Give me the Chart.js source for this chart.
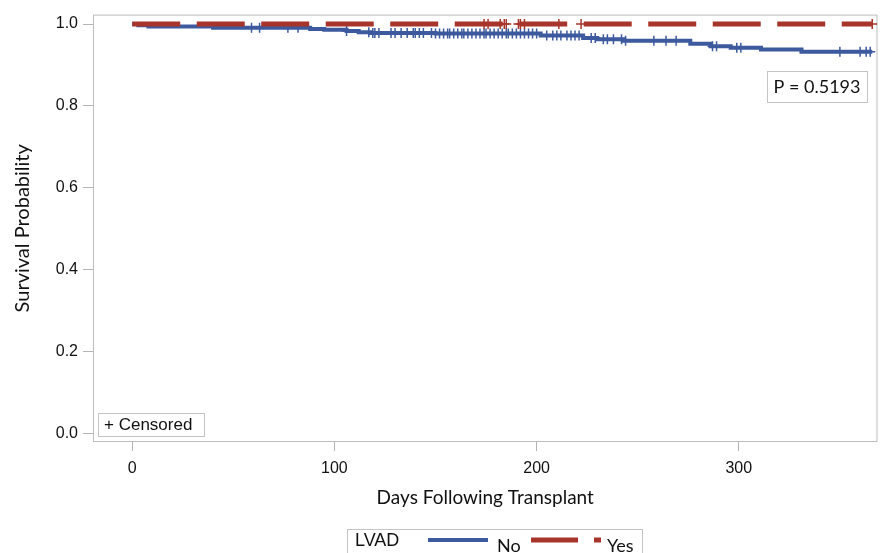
<!DOCTYPE html>
<html>
<head>
<meta charset="utf-8">
<script src="https://cdn.jsdelivr.net/npm/chart.js@4.4.0/dist/chart.umd.min.js"></script>
<style>
    body { margin: 0; background: #fff; }
    #wrap { width: 884px; height: 553px; }
</style>
</head>
<body>
<div id="wrap"><canvas id="kmChart" width="884" height="553"></canvas></div>
<script>
// Axis ticks
const xTicks = [0, 100, 200, 300];
const yTicks = [0, 0.2, 0.4, 0.6, 0.8, 1.0];

// Kaplan-Meier steps, LVAD = No
const noDays = [0, 3, 8, 40, 88, 95, 106, 112, 118, 150, 202, 223, 230, 243, 276, 286, 296, 311, 331, 366];
const noSurv = [1.0, 0.997, 0.994, 0.991, 0.988, 0.986, 0.983, 0.980, 0.978, 0.977, 0.972, 0.966, 0.963, 0.959, 0.952, 0.946, 0.942, 0.938, 0.932, 0.932];
const noCensorDays = [59, 63, 77, 82, 106, 117, 119, 120, 122, 128, 130, 133, 136, 139, 140, 142, 144,
    148, 150, 152, 154, 156, 157, 159, 161, 163, 164, 166, 168, 170, 172, 174, 175, 177, 179, 181, 183,
    185, 186, 188, 190, 192, 194, 196, 198, 200, 205, 208, 210, 212, 215, 217, 219, 221, 227, 229, 233,
    235, 238, 242, 244, 258, 264, 269, 287, 289, 299, 301, 350, 360, 363, 365];

// Kaplan-Meier steps, LVAD = Yes (no events)
const yesDays = [0, 366];
const yesSurv = [1.0, 1.0];
const yesCensorDays = [174, 176, 182, 184, 185, 191, 192, 194, 211, 222, 366];

const pValueText = 'P = 0.5193';

const blue = '#3d5a9e';
const red = '#a8352b';

function survAt(days, surv, t) {
    let s = surv[0];
    for (let i = 0; i < days.length; i++) {
        if (days[i] <= t) s = surv[i];
    }
    return s;
}

function toPoints(days, surv) {
    return days.map((d, i) => ({ x: d, y: surv[i] }));
}

function censorPoints(days, surv, cDays) {
    return cDays.map(d => ({ x: d, y: survAt(days, surv, d) }));
}

const calibriLike = 'Lato, "Open Sans", sans-serif';
const arialLike = '"Liberation Sans", Arial, sans-serif';

// frame, text boxes and the bottom legend
const decorPlugin = {
    id: 'decor',
    beforeDatasetsDraw(chart) {
        const a = chart.chartArea;
        const ctx = chart.ctx;
        ctx.save();
        ctx.strokeStyle = '#bdbdbd';
        ctx.lineWidth = 1;
        ctx.strokeRect(a.left + 0.5, a.top + 0.5, a.right - a.left - 1, a.bottom - a.top - 1);
        ctx.restore();
    },
    afterDraw(chart) {
        const ctx = chart.ctx;
        ctx.save();

        // P value box
        ctx.fillStyle = '#fff';
        ctx.fillRect(767, 71, 100, 31);
        ctx.strokeStyle = '#c4c4c4';
        ctx.lineWidth = 1;
        ctx.strokeRect(767.5, 71.5, 100, 31);
        ctx.fillStyle = '#111';
        ctx.font = '18px ' + calibriLike;
        ctx.textAlign = 'center';
        ctx.textBaseline = 'middle';
        ctx.fillText(pValueText, 817, 87);

        // censored box
        ctx.fillStyle = '#fff';
        ctx.fillRect(98, 413, 106, 23);
        ctx.strokeRect(98.5, 413.5, 106, 23);
        ctx.fillStyle = '#111';
        ctx.font = '17px ' + arialLike;
        ctx.textAlign = 'left';
        ctx.fillText('+ Censored', 104, 425);

        // legend
        const ds = chart.data.datasets;
        const noDs = ds.find(d => d.label === 'No');
        const yesDs = ds.find(d => d.label === 'Yes');
        ctx.strokeRect(347.5, 529.5, 295, 30);
        ctx.font = '18px ' + arialLike;
        ctx.fillText('LVAD', 355, 541);

        ctx.lineWidth = noDs.borderWidth;
        ctx.strokeStyle = noDs.borderColor;
        ctx.beginPath();
        ctx.moveTo(428, 540);
        ctx.lineTo(488, 540);
        ctx.stroke();
        ctx.font = '18px ' + calibriLike;
        ctx.fillText(noDs.label, 497, 546);

        ctx.lineWidth = yesDs.borderWidth;
        ctx.strokeStyle = yesDs.borderColor;
        ctx.setLineDash([47, 16]);
        ctx.beginPath();
        ctx.moveTo(531, 540);
        ctx.lineTo(601, 540);
        ctx.stroke();
        ctx.setLineDash([]);
        ctx.fillText(yesDs.label, 607, 546);

        ctx.restore();
    }
};

const kmChart = new Chart(document.getElementById('kmChart').getContext('2d'), {
    type: 'line',
    data: {
        datasets: [
            {
                label: 'Yes',
                data: toPoints(yesDays, yesSurv),
                borderColor: red,
                borderWidth: 5,
                borderDash: [48, 16.5],
                stepped: true,
                pointRadius: 0,
                order: 1
            },
            {
                label: 'Yes censored',
                type: 'scatter',
                data: censorPoints(yesDays, yesSurv, yesCensorDays),
                pointStyle: 'cross',
                pointRadius: 5,
                borderColor: red,
                borderWidth: 1.5,
                order: 0
            },
            {
                label: 'No',
                data: toPoints(noDays, noSurv),
                borderColor: blue,
                borderWidth: 4,
                stepped: true,
                pointRadius: 0,
                order: 3
            },
            {
                label: 'No censored',
                type: 'scatter',
                data: censorPoints(noDays, noSurv, noCensorDays),
                pointStyle: 'cross',
                pointRadius: 5,
                borderColor: blue,
                borderWidth: 1.5,
                order: 2
            }
        ]
    },
    options: {
        responsive: false,
        animation: false,
        layout: {
            padding: { top: 12, right: 5, left: 0, bottom: 0 }
        },
        scales: {
            x: {
                type: 'linear',
                min: -19.4,
                max: 368.6,
                afterBuildTicks: s => { s.ticks = xTicks.map(v => ({ value: v })); },
                afterFit: s => { s.height = 111; },
                grid: { drawOnChartArea: false, tickLength: 9, color: '#b4b4b4' },
                border: { display: false },
                ticks: {
                    font: { family: arialLike, size: 16 },
                    color: '#111',
                    padding: 8,
                    maxRotation: 0,
                    callback: v => String(v)
                },
                title: {
                    display: true,
                    text: 'Days Following Transplant',
                    font: { family: calibriLike, size: 19 },
                    color: '#111',
                    padding: { bottom: 44 }
                }
            },
            y: {
                type: 'linear',
                min: -0.0206,
                max: 1.023,
                afterBuildTicks: s => { s.ticks = yTicks.map(v => ({ value: v })); },
                afterFit: s => { s.width = 93; },
                grid: { drawOnChartArea: false, tickLength: 10, color: '#b4b4b4' },
                border: { display: false },
                ticks: {
                    font: { family: arialLike, size: 16 },
                    color: '#111',
                    padding: 5,
                    callback: v => v.toFixed(1)
                },
                title: {
                    display: true,
                    text: 'Survival Probability',
                    font: { family: calibriLike, size: 20 },
                    color: '#111',
                    padding: { top: 11 }
                }
            }
        },
        plugins: {
            legend: { display: false },
            tooltip: { enabled: false }
        }
    },
    plugins: [decorPlugin]
});
</script>
</body>
</html>
